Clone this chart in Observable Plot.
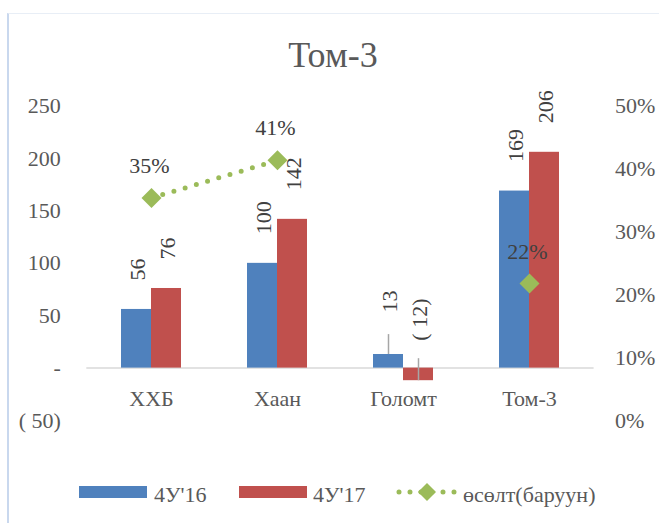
<!DOCTYPE html>
<html>
<head>
<meta charset="utf-8">
<script src="https://cdn.jsdelivr.net/npm/d3@7"></script>
<script src="https://cdn.jsdelivr.net/npm/@observablehq/plot@0.6"></script>
<style>
  html, body { margin: 0; padding: 0; background: #fff; }
  #wrap { position: relative; width: 659px; height: 523px; overflow: hidden; font-family: "Liberation Serif", "Times New Roman", Tinos, "DejaVu Serif", serif; }
  #frame { position: absolute; left: 7px; top: 13px; width: 660px; height: 520px; border-left: 2px solid #c9d8ee; border-top: 1px solid #e8eef6; box-sizing: border-box; }
  #title { position: absolute; left: 7px; width: 652px; top: 37px; text-align: center; font-size: 36px; line-height: 36px; color: #595959; }
  #chart { position: absolute; left: 0; top: 0; }
  .leg { position: absolute; font-size: 22px; line-height: 22px; color: #595959; top: 484px; white-space: nowrap; }
  .sw { position: absolute; top: 486px; width: 68px; height: 12px; }
  svg text { font-family: "Liberation Serif", "Times New Roman", Tinos, "DejaVu Serif", serif !important; }
</style>
</head>
<body>
<div id="wrap">
  <div id="frame"></div>
  <div id="chart"></div>
  <div id="title">Том-3</div>
  <div id="legend"></div>
</div>
<script>
// ---- data ----
const categories = ["ХХБ", "Хаан", "Голомт", "Том-3"];
const seriesNames = ["4У'16", "4У'17"];
const values16 = [56, 100, 13, 169];
const values17 = [76, 142, -12, 206];
const growth = [0.354, 0.414, null, 0.218];
const growthName = "өсөлт(баруун)";
const leftTicks = [-50, 0, 50, 100, 150, 200, 250];
const rightTicks = [0, 0.1, 0.2, 0.3, 0.4, 0.5];

// ---- styling / layout (not data) ----
const colors = { "4У'16": "#4f81bd", "4У'17": "#c0504d", growth: "#9bbb59" };
const labelOffset = { default: -29, "Голомт|4У'16": -42, "Голомт|4У'17": -40 };
const leaders = [ { cat: "Голомт", s: "4У'16", len: 19 }, { cat: "Голомт", s: "4У'17", len: 21 } ];
const font = "'Liberation Serif', 'Times New Roman', Tinos, 'DejaVu Serif', serif";
const toLeft = p => -50 + p * 600; // secondary axis: 0%..50% -> -50..250

const bars = [];
categories.forEach((c, i) => {
  bars.push({ cat: c, s: seriesNames[0], v: values16[i] });
  bars.push({ cat: c, s: seriesNames[1], v: values17[i] });
});
const growthData = categories.map((c, i) => ({ cat: c, g: growth[i] }));
const fmtVal = v => v < 0 ? `( ${Math.abs(v)})` : v === 0 ? "-" : String(v);
const dxOf = s => s === seriesNames[0] ? -15 : 15;

const marks = [
  Plot.ruleY([0], { stroke: "#d9d9d9", strokeWidth: 1.5 }),
  ...seriesNames.map(s => Plot.barY(bars.filter(d => d.s === s), {
    x: "cat", y: "v", fill: colors[s], dx: dxOf(s)
  })),
  ...leaders.map(L => {
    const d = bars.find(b => b.cat === L.cat && b.s === L.s);
    return Plot.ruleX([d], { x: "cat", y1: "v", y2: dd => dd.v + L.len, dx: dxOf(L.s), stroke: "#a6a6a6", strokeWidth: 1.5 });
  }),
  ...seriesNames.map(s => {
    const sub = bars.filter(d => d.s === s);
    return Plot.text(sub, {
      x: "cat", y: "v",
      text: d => fmtVal(d.v), rotate: -90, textAnchor: "start", lineAnchor: "middle",
      dx: dxOf(s) + 1,
      fontSize: 22, fill: "#404040",
      render: (index, scales, values, dims, ctx, next) => {
        const g = next(index, scales, values, dims, ctx);
        d3.select(g).selectAll("text").each(function(_, j) {
          const d = sub[index[j]];
          const off = labelOffset[d.cat + "|" + d.s] ?? labelOffset.default;
          const t = d3.select(this).attr("transform");
          const m = /translate\(([-\d.]+),([-\d.]+)\)/.exec(t);
          if (m) d3.select(this).attr("transform", t.replace(m[0], `translate(${m[1]},${+m[2] + off})`));
        });
        return g;
      }
    });
  }),
  Plot.line(growthData, {
    x: "cat", y: d => d.g == null ? NaN : toLeft(d.g),
    stroke: colors.growth, strokeWidth: 5, strokeDasharray: "0 11.7", strokeLinecap: "round"
  }),
  Plot.dot(growthData.filter(d => d.g != null), {
    x: "cat", y: d => toLeft(d.g), symbol: "diamond2", r: 9, fill: colors.growth, stroke: "none"
  }),
  Plot.text(growthData.filter(d => d.g != null), {
    x: "cat", y: d => toLeft(d.g), text: d => d3.format(".0%")(d.g), dy: -32, dx: -2,
    fontSize: 22, fill: "#404040"
  }),
  Plot.axisY(leftTicks, { anchor: "left", label: null, tickSize: 0, tickPadding: 26, tickFormat: fmtVal, fontSize: 22, fill: "#595959" }),
  Plot.axisY(rightTicks.map(toLeft), { anchor: "right", label: null, tickSize: 0, tickPadding: 21, tickFormat: v => Math.round((v + 50) / 6) + "%", fontSize: 22, fill: "#595959" }),
  Plot.axisX({ anchor: "bottom", label: null, tickSize: 0, tickPadding: -30, fontSize: 22, fill: "#595959" })
];

const chart = Plot.plot({
  width: 659,
  height: 523,
  marginTop: 105.7,
  marginBottom: 103,
  marginLeft: 86.3,
  marginRight: 65.4,
  style: { fontFamily: font, background: "transparent", overflow: "visible" },
  x: { domain: categories, type: "band", paddingInner: 0.7636, paddingOuter: 0.3818, axis: null, label: null },
  y: { domain: [-50, 250], axis: null, label: null },
  marks
});
document.getElementById("chart").appendChild(chart);

// ---- legend ----
const legend = document.getElementById("legend");
legend.innerHTML = `
  <div class="sw" style="left:79px;background:${colors[seriesNames[0]]}"></div>
  <div class="leg" style="left:154px">${seriesNames[0]}</div>
  <div class="sw" style="left:239px;background:${colors[seriesNames[1]]}"></div>
  <div class="leg" style="left:313px">${seriesNames[1]}</div>
  <svg style="position:absolute;left:396px;top:482px" width="62" height="20">
    <line x1="3" y1="10" x2="59" y2="10" stroke="${colors.growth}" stroke-width="5" stroke-dasharray="0 11" stroke-linecap="round"/>
    <polygon points="31,1 40,10 31,19 22,10" fill="${colors.growth}"/>
  </svg>
  <div class="leg" style="left:463px">${growthName}</div>`;
</script>
</body>
</html>
